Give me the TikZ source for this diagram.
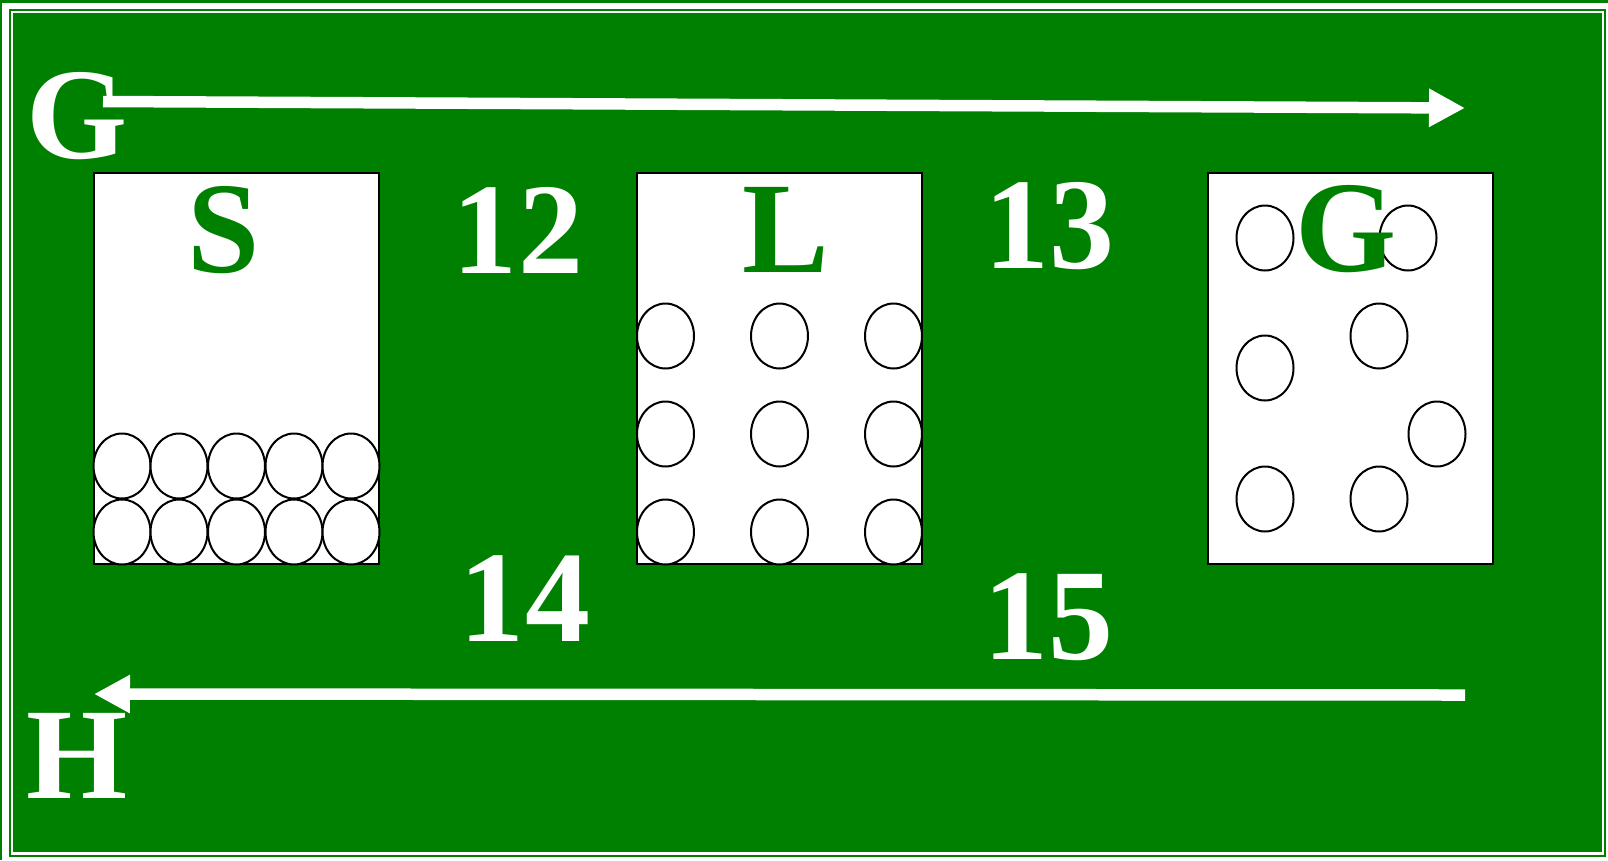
\documentclass[tikz,border=0pt]{standalone}
\usepackage{fontspec}
\setmainfont{Liberation Serif}
\usepackage{tikz}
\usetikzlibrary{shapes,arrows.meta,positioning}
\definecolor{fgreen}{RGB}{0,128,0}

\begin{document}
\begin{tikzpicture}[
  x=0.02cm, y=-0.02cm,
  box/.style={draw=black, fill=white, line width=0.04cm, minimum width=5.7cm,
              minimum height=7.82cm, inner sep=0pt},
  ball/.style={draw=black, fill=white, ellipse, line width=0.04cm, minimum width=1.14cm,
               minimum height=1.3cm, inner sep=0pt},
  bigw/.style={text=white, anchor=base, inner sep=0pt,
               font=\fontsize{74}{80}\selectfont\bfseries},
  bigg/.style={bigw, text=fgreen},
  flow/.style={draw=white, line width=0.23cm,
               -{Triangle[length=0.72cm, width=0.72cm]}}
]
\useasboundingbox (0,0) rectangle (1608,860);

% Frame
\fill[white] (0,0) rectangle (1608,860);
\fill[fgreen] (0,0) rectangle (1608,2.5);
\fill[fgreen] (0,0) rectangle (2,860);
\draw[fgreen, line width=0.04cm] (10,10) rectangle (1605,855.5);
\fill[fgreen] (13,13) rectangle (1602,852);

% Containers
\node[box] (S) at (236.5,368.5) {};
\node[box] (L) at (779.5,368.5) {};
\node[box] (G) at (1350.5,368.5) {};

% Solid: packed particles
\node[ball] (s1) at (122,466) {};  \node[ball] (s2) at (179,466) {};
\node[ball] (s3) at (236.5,466) {}; \node[ball] (s4) at (294,466) {};
\node[ball] (s5) at (351,466) {};
\node[ball] (s6) at (122,532) {};  \node[ball] (s7) at (179,532) {};
\node[ball] (s8) at (236.5,532) {}; \node[ball] (s9) at (294,532) {};
\node[ball] (s10) at (351,532) {};

% Liquid: spaced particles
\node[ball] (l1) at (665.5,336) {}; \node[ball] (l2) at (779.5,336) {};
\node[ball] (l3) at (893.5,336) {};
\node[ball] (l4) at (665.5,434) {}; \node[ball] (l5) at (779.5,434) {};
\node[ball] (l6) at (893.5,434) {};
\node[ball] (l7) at (665.5,532) {}; \node[ball] (l8) at (779.5,532) {};
\node[ball] (l9) at (893.5,532) {};

% Gas: scattered particles
\node[ball] (g1) at (1265,238) {};  \node[ball] (g2) at (1408,238) {};
\node[ball] (g3) at (1379,336) {};  \node[ball] (g4) at (1265,368) {};
\node[ball] (g5) at (1437,434) {};  \node[ball] (g6) at (1265,499) {};
\node[ball] (g7) at (1379,499) {};

% Letters in containers
\node[bigg] (lblS) at (224,272) {S};
\node[bigg] (lblL) at (786,272) {L};
\node[bigg] (lblG) at (1346,271) {G};

% Numbers
\node[bigw] (n12) at (518,273) {12};
\node[bigw] (n13) at (1049,268) {13};
\node[bigw] (n14) at (525,641) {14};
\node[bigw] (n15) at (1048,659) {15};

% Side labels
\node[bigw] (lblGt) at (77,158) {G};
\node[bigw] (lblH) at (77,798) {H};

% Arrows
\coordinate (gs) at (103,101.5);
\coordinate (ge) at (1465,108);
\coordinate (hs) at (1465,695);
\coordinate (he) at (94,694);
\draw[flow] (gs) -- (ge);
\draw[flow] (hs) -- (he);
\end{tikzpicture}
\end{document}
